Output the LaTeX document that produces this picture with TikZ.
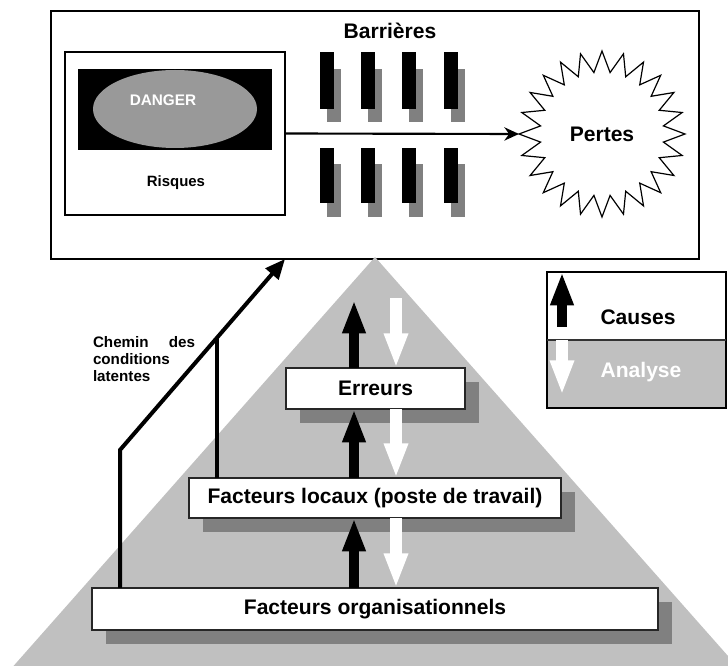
\documentclass[tikz,border=0pt]{standalone}
\usepackage{fontspec}
\setmainfont{Liberation Sans}
\usetikzlibrary{arrows.meta,shapes.geometric,shadows}
\definecolor{pyr}{HTML}{C0C0C0}
\definecolor{shd}{HTML}{808080}
\definecolor{ell}{HTML}{999999}
\begin{document}
\begin{tikzpicture}[x=0.75pt,y=-0.75pt,
  every node/.style={font=\bfseries, inner sep=0pt, outer sep=0pt},
  bigfont/.style={font=\bfseries\fontsize{15.8}{18}\selectfont},
  smallfont/.style={font=\bfseries\fontsize{11.4}{13.1}\selectfont},
  frame/.style={draw=black, line width=1pt, fill=white, anchor=north west},
  levelbox/.style={draw=black!85, line width=1pt, fill=white, anchor=north west, bigfont,
    general shadow={fill=shd, shadow xshift=10.5pt, shadow yshift=-10.5pt}},
  causearrow/.style={line width=7.5pt, draw=black, -{Triangle[length=25pt, width=16pt]}},
  analysearrow/.style={line width=9pt, draw=white, -{Triangle[length=26pt, width=16.5pt, fill=white]}},
  pathline/.style={line width=3pt, draw=black},
]
\useasboundingbox (0,0) rectangle (728,666);
\fill[white] (0,0) rectangle (728,666);

% top box
\node[frame, line width=1.2pt, minimum width=486pt, minimum height=186pt] (mainbox) at (51,11) {};
\node[bigfont] (barr) at (390,31) {Barrières};
\node[frame, minimum width=165pt, minimum height=122.25pt] (risq) at (65,52) {};
\fill[black] (78,69) rectangle (272,150);
\node[ellipse, fill=ell, minimum width=123pt, minimum height=58.5pt] (dangerell) at (175,109) {};
\node[white, font=\bfseries\fontsize{11.5}{13}\selectfont] (danger) at (163,100) {DANGER};
\node[font=\bfseries\fontsize{11.2}{13}\selectfont] (risqtxt) at (176,183) {Risques};

% barriers
\foreach \bx in {320,361,402,444}{
  \fill[shd] (\bx+7,69) rectangle (\bx+21,122);
  \fill[black] (\bx,52) rectangle (\bx+14,109);
  \fill[shd] (\bx+7,164) rectangle (\bx+21,217);
  \fill[black] (\bx,148) rectangle (\bx+14,203);
}

% pertes
\node[star, star points=24, star point ratio=1.34, minimum size=124.5pt, draw=black,
  line width=0.9pt, fill=white, bigfont] (pertes) at (602,134) {Pertes};
\draw[line width=1.6pt, -{Stealth[length=11pt, width=10pt]}] (risq.east) -- (pertes.west);

% pyramid
\fill[pyr] (375,257) -- (13.5,666) -- (728,666) -- (728,656) -- cycle;

% chemin des conditions latentes
\coordinate (bend) at (120,450);
\coordinate (junction) at (217,338);
\coordinate (chemtip) at (285,259);
\coordinate (cx) at (120,0);
\coordinate (jx) at (217,0);
\draw[pathline, line cap=round, -{Triangle[length=15pt, width=12.5pt]}] (cx |- 0,588) -- (bend) -- (chemtip);
\draw[pathline, line width=2.4pt] (jx |- 0,478) -- (junction);
\node[smallfont, anchor=north west, align=left] (chemin) at (93,336)
  {\makebox[76.5pt][s]{Chemin\hfill des}\\conditions\\latentes};

% level boxes
\node[levelbox, minimum width=134.25pt, minimum height=30.75pt] (err) at (286,368) {Erreurs};
\node[levelbox, minimum width=279pt, minimum height=30pt] (loc) at (189,478) {Facteurs locaux (poste de travail)};
\node[levelbox, minimum width=424.5pt, minimum height=31.5pt] (org) at (92,588) {Facteurs organisationnels};
\draw[pathline] (cx |- org.north) -- (cx |- 0,586);
\draw[pathline, line width=2.4pt] (jx |- loc.north) -- (jx |- 0,476);

% causes / analyse arrows
\coordinate (ux) at (354,0);
\coordinate (dx) at (396,0);
\coordinate (utop) at (354,300);
\coordinate (dtop) at (396,298);
\draw[causearrow] (ux |- org.north) -- (ux |- loc.south);
\draw[causearrow] (ux |- loc.north) -- (ux |- err.south);
\draw[causearrow] (ux |- err.north) -- (utop);
\draw[analysearrow] (dtop) -- (dx |- err.north);
\draw[analysearrow] (dx |- err.south) -- (dx |- loc.north);
\draw[analysearrow] (dx |- loc.south) -- (dx |- org.north);

% legend
\node[frame, minimum width=134.25pt, minimum height=102pt] (leg) at (547,272) {};
\fill[pyr] (leg.west) rectangle (leg.south east);
\draw[line width=1.2pt] (leg.north west) rectangle (leg.south east);
\draw[line width=1.2pt, black!80] (leg.west) -- (leg.east);
\node[bigfont] (causes) at (638,317) {Causes};
\node[bigfont, white] (analyse) at (641,372) {Analyse};
\coordinate (lx) at (562,0);
\coordinate (lstart) at (562,327);
\coordinate (lend) at (562,395);
\draw[causearrow] (lstart) -- (lx |- leg.north);
\draw[analysearrow] (lx |- leg.west) -- (lend);
\end{tikzpicture}
\end{document}
